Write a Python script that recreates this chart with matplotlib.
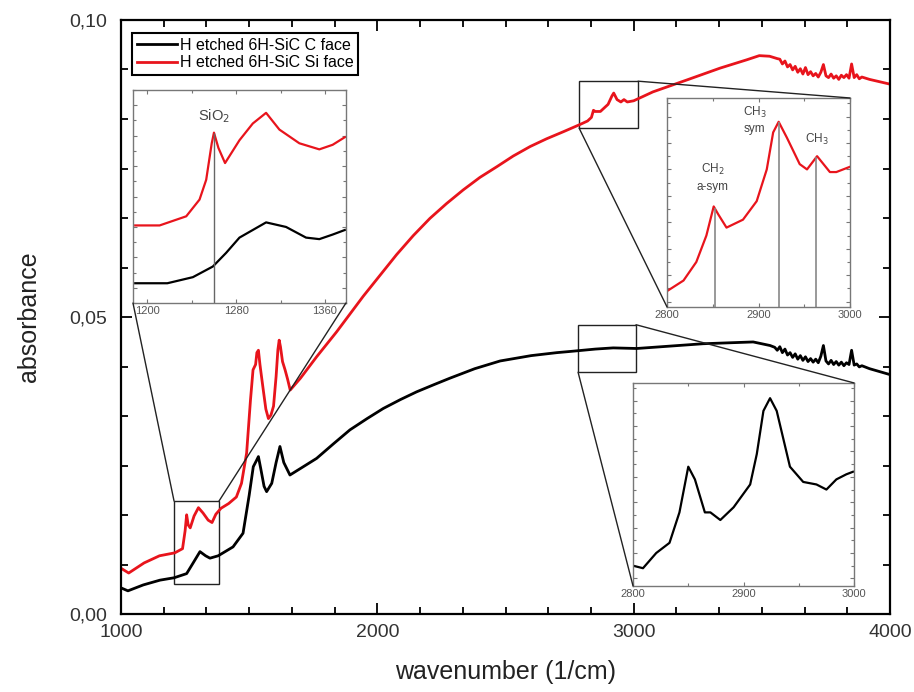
import numpy as np
import matplotlib
matplotlib.use('Agg')
import matplotlib.pyplot as plt
from matplotlib.ticker import AutoMinorLocator, MultipleLocator, FuncFormatter
from matplotlib.patches import Rectangle, ConnectionPatch

plt.rcParams['font.family'] = ['Liberation Sans', 'DejaVu Sans']

# ---- main spectra ----
red_wn = [1000, 1030, 1090, 1150, 1210, 1240, 1250, 1256, 1262, 1270, 1285, 1302, 1320, 1340,
          1355, 1370, 1390, 1420, 1450, 1470, 1490, 1505, 1515, 1525, 1530, 1536, 1542, 1548,
          1555, 1565, 1575, 1585, 1595, 1605, 1612, 1617, 1622, 1630, 1640, 1650, 1660, 1700,
          1763, 1841, 1893, 1945, 1997, 2075, 2140, 2205, 2270, 2335, 2400, 2466, 2530, 2596,
          2660, 2726, 2790, 2820, 2835,
          2843, 2850, 2870, 2900, 2915, 2922, 2935, 2950, 2962, 2975, 3000, 3075, 3207, 3337,
          3441, 3490, 3530, 3560,
          3570, 3580, 3590, 3600, 3610, 3620, 3630, 3640, 3650, 3660, 3670, 3680, 3690, 3700,
          3710, 3720, 3730, 3740, 3750, 3760, 3770, 3780, 3790, 3800, 3810, 3820, 3830, 3840,
          3850, 3860, 3870, 3880, 3890, 3920, 3960, 4000]
red_abs = [0.0077, 0.0069, 0.0086, 0.0098, 0.0103, 0.0110, 0.0140, 0.0167, 0.0150, 0.0145, 0.0165,
           0.0179, 0.0170, 0.0158, 0.0154, 0.0168, 0.0178, 0.0186, 0.0197, 0.0220, 0.0271, 0.0360,
           0.0411, 0.0420, 0.0440, 0.0444, 0.0420, 0.0400, 0.0377, 0.0345, 0.0329, 0.0335, 0.0350,
           0.0400, 0.0445, 0.0461, 0.0450, 0.0425, 0.0411, 0.0395, 0.0377, 0.0397, 0.0433, 0.0475,
           0.0505, 0.0535, 0.0563, 0.0605, 0.0637, 0.0666, 0.0691, 0.0714, 0.0735, 0.0753, 0.0771,
           0.0787, 0.0800, 0.0812, 0.0824, 0.0830, 0.0836,
           0.0848, 0.0846, 0.0846, 0.0858, 0.0872, 0.0877, 0.0866, 0.0862, 0.0866, 0.0862,
           0.0864, 0.0879, 0.0899, 0.0919, 0.0933, 0.0940, 0.0939, 0.0935,
           0.0934, 0.0926, 0.0931, 0.0921, 0.0925, 0.0916, 0.0922, 0.0912, 0.0918, 0.0909, 0.0920,
           0.0908, 0.0913, 0.0906, 0.0910, 0.0904, 0.0912, 0.0925, 0.0906, 0.0903, 0.0909, 0.0902,
           0.0906, 0.0900, 0.0907, 0.0903, 0.0908, 0.0902, 0.0926, 0.0903, 0.0908, 0.0901, 0.0904,
           0.0900, 0.0896, 0.0892]

black_wn = [1000, 1027, 1087, 1152, 1207, 1256, 1280, 1308, 1330, 1347, 1379, 1437, 1476, 1500,
            1516, 1528, 1536, 1545, 1558, 1568, 1588, 1605, 1620, 1635, 1659, 1700, 1763, 1830,
            1893, 1960, 2023, 2090, 2153, 2220, 2283, 2380, 2479, 2600, 2700, 2752, 2850, 2920,
            3012, 3271, 3466, 3532,
            3550, 3560, 3570, 3580, 3590, 3600, 3610, 3620, 3630, 3640, 3650, 3660, 3670, 3680,
            3690, 3700, 3710, 3720, 3730, 3740, 3750, 3760, 3770, 3780, 3790, 3800, 3810, 3820,
            3830, 3840, 3850, 3860, 3870, 3880, 3890, 3920, 3960, 4000]
black_abs = [0.0044, 0.0039, 0.0049, 0.0057, 0.0061, 0.0068, 0.0085, 0.0105, 0.0098, 0.0094,
             0.0098, 0.0113, 0.0136, 0.0200, 0.0248, 0.0258, 0.0265, 0.0245, 0.0215, 0.0206,
             0.0220, 0.0255, 0.0282, 0.0255, 0.0234, 0.0245, 0.0262, 0.0287, 0.0310, 0.0329,
             0.0346, 0.0361, 0.0374, 0.0386, 0.0397, 0.0413, 0.0426, 0.0435, 0.0440, 0.0442,
             0.0446, 0.0448, 0.0447, 0.0455, 0.0458, 0.0452,
             0.0449, 0.0444, 0.0450, 0.0440, 0.0446, 0.0436, 0.0440, 0.0432, 0.0438, 0.0429,
             0.0435, 0.0427, 0.0433, 0.0425, 0.0430, 0.0424, 0.0429, 0.0423, 0.0434, 0.0452,
             0.0426, 0.0421, 0.0427, 0.0420, 0.0425, 0.0419, 0.0424, 0.0418, 0.0423, 0.0420,
             0.0444, 0.0419, 0.0421, 0.0416, 0.0418, 0.0413, 0.0408, 0.0403]

# ---- inset: SiO2 region ----
sio_wn = [1189, 1211, 1235, 1247, 1253, 1258, 1260, 1264, 1270, 1283, 1295, 1307, 1319, 1337,
          1355, 1367, 1378]
sio_red = [0.0101, 0.0101, 0.0107, 0.0118, 0.0131, 0.0155, 0.0162, 0.0152, 0.0142, 0.0157,
           0.0168, 0.0175, 0.0164, 0.0155, 0.0151, 0.0154, 0.0159]
sio_black_wn = [1189, 1218, 1241, 1259, 1271, 1283, 1295, 1307, 1325, 1343, 1355, 1367, 1378]
sio_black = [0.0063, 0.0063, 0.0067, 0.0074, 0.0083, 0.0093, 0.0098, 0.0103, 0.0100, 0.0093,
             0.0092, 0.0095, 0.0098]

# ---- inset: CH region, Si face ----
ch_red_wn = [2800, 2818, 2832, 2843, 2851, 2856, 2865, 2883, 2898, 2909, 2916, 2922, 2931, 2945,
             2953, 2964, 2978, 2985, 3000]
ch_red = [0.0824, 0.0828, 0.0835, 0.0845, 0.0856, 0.0853, 0.0848, 0.0851, 0.0858, 0.0870,
          0.0884, 0.0888, 0.0882, 0.0872, 0.0870, 0.0875, 0.0869, 0.0869, 0.0871]

# ---- inset: CH region, C face ----
ch_black_wn = [2800, 2809, 2821, 2833, 2842, 2850, 2856, 2865, 2870, 2879, 2891, 2906, 2912,
               2918, 2924, 2930, 2942, 2954, 2966, 2975, 2984, 2993, 2999]
ch_black = [0.0415, 0.0414, 0.0420, 0.0424, 0.0436, 0.0454, 0.0449, 0.0436, 0.0436, 0.0433,
            0.0438, 0.0447, 0.0459, 0.0476, 0.0481, 0.0476, 0.0454, 0.0448, 0.0447, 0.0445,
            0.0449, 0.0451, 0.0452]

sio2_pos = 1260
ch_pos = [2852, 2922, 2963]

RED = '#e8141c'
comma = FuncFormatter(lambda v, p: ('%.2f' % v).replace('.', ','))

fig = plt.figure(figsize=(9.14, 6.92), dpi=100)
ax = fig.add_axes([0.1324, 0.1127, 0.8414, 0.8584])
ax.plot(black_wn, black_abs, color='black', lw=2, label='H etched 6H-SiC C face')
ax.plot(red_wn, red_abs, color=RED, lw=2, label='H etched 6H-SiC Si face')
ax.set_xlim(1000, 4000)
ax.set_ylim(0, 0.1)
ax.set_xticks([1000, 2000, 3000, 4000])
ax.set_yticks([0, 0.05, 0.10])
ax.yaxis.set_major_formatter(comma)
ax.xaxis.set_minor_locator(AutoMinorLocator(6))
ax.yaxis.set_minor_locator(AutoMinorLocator(6))
ax.tick_params(which='both', direction='in', top=True, right=True, width=1.3, colors='black',
               labelcolor='#333333', labelsize=14)
ax.tick_params(which='major', length=8)
ax.tick_params(which='minor', length=5)
ax.tick_params(axis='x', pad=7)
ax.tick_params(axis='y', pad=10)
for s in ax.spines.values():
    s.set_linewidth(1.6)
ax.set_xlabel('wavenumber (1/cm)', fontsize=18, color='#222222', labelpad=14)
ax.set_ylabel('absorbance', fontsize=18, color='#222222', labelpad=20)
leg = ax.legend(loc='upper left', bbox_to_anchor=(0.0143, 0.978), borderaxespad=0,
                fancybox=False, edgecolor='black', framealpha=1, fontsize=11.5,
                handlelength=2.5, handletextpad=0.2, borderpad=0.3, labelspacing=0.15)
leg.get_frame().set_linewidth(1.5)

# zoom boxes on the main plot
boxes = [(1207, 1382, 0.00505, 0.019), (2787, 3017, 0.0818, 0.0897), (2783, 3009, 0.0407, 0.0487)]
for x0, x1, y0, y1 in boxes:
    ax.add_patch(Rectangle((x0, y0), x1 - x0, y1 - y0, fill=False, edgecolor='#222222', lw=1))


def style_inset(a, xt, minor):
    a.set_xticks(xt)
    a.xaxis.set_minor_locator(MultipleLocator(minor))
    a.yaxis.set_minor_locator(AutoMinorLocator(2))
    a.set_yticklabels([])
    a.tick_params(which='both', direction='in', top=True, right=True, colors='#777777',
                  labelcolor='#555555', labelsize=8, pad=2, width=0.8)
    a.tick_params(which='major', length=3)
    a.tick_params(which='minor', length=2)
    for s in a.spines.values():
        s.set_color('#777777')
        s.set_linewidth(1)


# SiO2 inset
ax1 = fig.add_axes([0.1455, 0.5621, 0.2330, 0.3078])
ax1.plot(sio_wn, sio_red, color=RED, lw=1.6)
ax1.plot(sio_black_wn, sio_black, color='black', lw=1.6)
ax1.set_xlim(1187, 1379)
ax1.set_ylim(0.005, 0.019)
ax1.vlines(sio2_pos, 0.005, np.interp(sio2_pos, sio_wn, sio_red), color='#666666', lw=1)
ax1.text(sio2_pos, 0.0173, 'SiO$_2$', fontsize=10.5, color='#444444', ha='center', va='center')
style_inset(ax1, [1200, 1280, 1360], 40)

# CH inset, Si face
ax2 = fig.add_axes([0.7298, 0.5564, 0.2002, 0.3020])
ax2.plot(ch_red_wn, ch_red, color=RED, lw=1.6)
ax2.set_xlim(2800, 3000)
ax2.set_ylim(0.0818, 0.0897)
ax2.vlines(ch_pos, 0.0818, np.interp(ch_pos, ch_red_wn, ch_red), color='#888888', lw=1.2)
ax2.text(0.25, 0.62, 'CH$_2$\na-sym', transform=ax2.transAxes, fontsize=8.5, color='#444444',
         ha='center', va='center', linespacing=1.4)
ax2.text(0.48, 0.895, 'CH$_3$\nsym', transform=ax2.transAxes, fontsize=8.5, color='#444444',
         ha='center', va='center', linespacing=1.4)
ax2.text(0.82, 0.80, 'CH$_3$', transform=ax2.transAxes, fontsize=8.5, color='#444444',
         ha='center', va='center')
style_inset(ax2, [2800, 2900, 3000], 50)

# CH inset, C face
ax3 = fig.add_axes([0.6926, 0.1532, 0.2418, 0.2934])
ax3.plot(ch_black_wn, ch_black, color='black', lw=1.6)
ax3.set_xlim(2800, 3000)
ax3.set_ylim(0.0407, 0.0487)
style_inset(ax3, [2800, 2900, 3000], 50)

# connector lines from boxes to insets
links = [((1207, 0.019), ax1, (0, 0)), ((1382, 0.019), ax1, (1, 0)),
         ((3017, 0.0897), ax2, (1, 1)), ((2787, 0.0818), ax2, (0, 0)),
         ((3009, 0.0487), ax3, (1, 1)), ((2783, 0.0407), ax3, (0, 0))]
for xy, axin, corner in links:
    con = ConnectionPatch(xyA=xy, coordsA=ax.transData, xyB=corner, coordsB=axin.transAxes,
                          color='#222222', lw=1)
    fig.add_artist(con)

fig.savefig('out.png', dpi=100)
